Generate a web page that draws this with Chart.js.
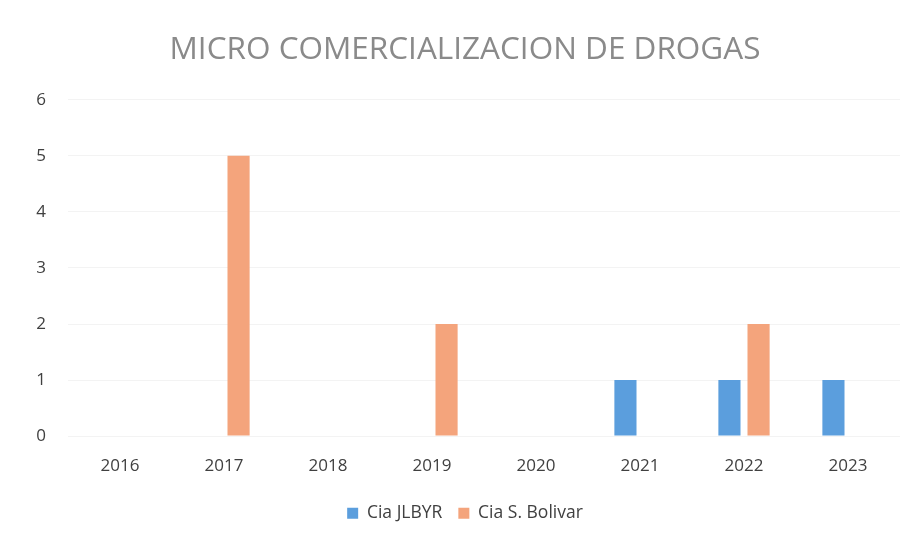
<!DOCTYPE html>
<html>
<head>
<meta charset="utf-8">
<script src="https://cdn.jsdelivr.net/npm/chart.js@4.4.0/dist/chart.umd.min.js"></script>
<style>
html,body{margin:0;padding:0;background:#fff;}
#wrap{width:922px;height:533px;}
</style>
</head>
<body>
<div id="wrap"><canvas id="c" width="922" height="533"></canvas></div>
<script>
const categories = ['2016','2017','2018','2019','2020','2021','2022','2023'];
const seriesJLBYR = [0,0,0,0,0,1,1,1];
const seriesBolivar = [0,5,0,2,0,0,2,0];
const yTicks = [0,1,2,3,4,5,6];

new Chart(document.getElementById('c'), {
  type: 'bar',
  data: {
    labels: categories,
    datasets: [
      {label:'Cia JLBYR', data: seriesJLBYR, backgroundColor:'#5B9EDD'},
      {label:'Cia S. Bolivar', data: seriesBolivar, backgroundColor:'#F4A47C'}
    ]
  },
  options: {
    responsive:false,
    animation:false,
    devicePixelRatio:1,
    layout:{padding:{left:30,right:22,top:21,bottom:1}},
    datasets:{bar:{categoryPercentage:0.56,barPercentage:0.76}},
    plugins:{
      title:{display:true,text:'MICRO COMERCIALIZACION DE DROGAS',color:'#8a8a8a',
        font:{family:'Open Sans',size:31.5,weight:'normal'},padding:{top:10,bottom:31}},
      legend:{position:'bottom',labels:{color:'#404040',boxWidth:11,boxHeight:11,padding:16,
        font:{family:'Open Sans',size:17.5}}},
      tooltip:{enabled:false}
    },
    scales:{
      x:{grid:{display:false},border:{display:false},
        ticks:{color:'#404040',font:{family:'Open Sans',size:17},padding:12}},
      y:{min:0,max:6,grid:{color:'#f3f3f3',drawTicks:false},border:{display:false},
        afterBuildTicks:(s)=>{s.ticks=yTicks.map(v=>({value:v}));},
        afterFit:(s)=>{s.width=38;},
        ticks:{color:'#404040',font:{family:'Open Sans',size:17},padding:22}}
    }
  }
});
</script>
</body>
</html>
